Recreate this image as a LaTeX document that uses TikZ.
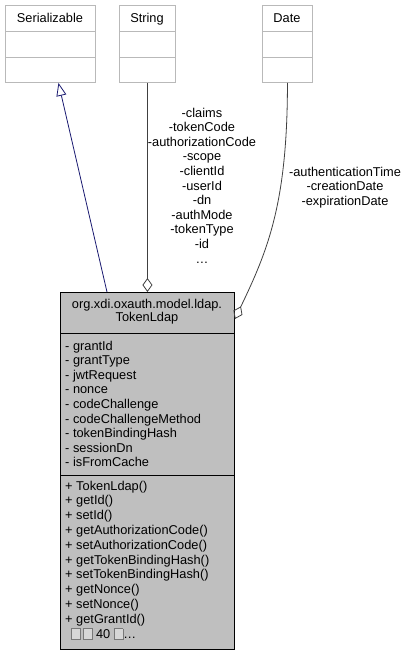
\documentclass[tikz,border=0pt]{standalone}
\usepackage{fontspec}
\setmainfont{Liberation Sans}
\usetikzlibrary{arrows.meta,calc}
\definecolor{boxedge}{RGB}{185,185,185}
\definecolor{mainfill}{RGB}{191,191,191}
\definecolor{linkgray}{RGB}{64,64,64}
\definecolor{inhblue}{RGB}{25,25,112}
\definecolor{tofuedge}{RGB}{120,120,120}
\definecolor{tofuin}{RGB}{215,215,215}
\newcommand\tofubox{\raisebox{-1.2pt}{\setlength\fboxsep{0pt}\setlength\fboxrule{0.8pt}\fcolorbox{tofuedge}{tofuin}{\rule{0pt}{10pt}\hspace{8pt}}}}
\begin{document}
\begin{tikzpicture}[x=1pt,y=-1pt,
  every node/.style={inner sep=0pt, font=\fontsize{12.8}{14.6}\selectfont},
  topbox/.style={draw=boxedge, fill=white, line width=0.9pt, minimum height=77, anchor=north west},
  mainbox/.style={draw=black, fill=mainfill, line width=0.9pt, minimum width=174, minimum height=357, anchor=north west},
  divider/.style={line width=0.9pt},
  inh/.style={draw=inhblue, line width=0.8pt, -{Triangle[open, length=13pt, width=10pt]}},
  agg/.style={draw=linkgray, line width=0.8pt, -{Diamond[open, length=14pt, width=10pt]}},
  lbl/.style={anchor=base},
  member/.style={anchor=base west}]
\useasboundingbox (0,0) rectangle (409,653);
% top boxes
\node[topbox, minimum width=90] (ser) at (5,5) {};
\node[topbox, minimum width=56] (str) at (119,5) {};
\node[topbox, minimum width=50] (date) at (262,5) {};
\foreach \b in {ser,str,date}{
  \draw[draw=boxedge, divider] ($(\b.north west)+(0,26)$) -- ($(\b.north east)+(0,26)$);
  \draw[draw=boxedge, divider] ($(\b.north west)+(0,52)$) -- ($(\b.north east)+(0,52)$);
}
\node[lbl] (serl) at (50,22) {Serializable};
\node[lbl] (strl) at (147,22) {String};
\node[lbl] (datel) at (287,22) {Date};
% main class
\node[mainbox] (main) at (60,292) {};
\draw[divider] ($(main.north west)+(0,41)$) -- ($(main.north east)+(0,41)$);
\draw[divider] ($(main.north west)+(0,183)$) -- ($(main.north east)+(0,183)$);
\node[lbl] (t1) at (147,308) {org.xdi.oxauth.model.ldap.};
\node[lbl] (t2) at (147,321) {TokenLdap};
\foreach \t [count=\i from 0] in {- grantId,- grantType,- jwtRequest,- nonce,- codeChallenge,- codeChallengeMethod,- tokenBindingHash,- sessionDn,- isFromCache}
  \node[member] (a\i) at (65,{350+14.6*\i}) {\t};
\foreach \t [count=\i from 0] in {+ TokenLdap(),+ getId(),+ setId(),+ getAuthorizationCode(),+ setAuthorizationCode(),+ getTokenBindingHash(),+ setTokenBindingHash(),+ getNonce(),+ setNonce(),+ getGrantId()}
  \node[member] (m\i) at (65,{490+14.8*\i}) {\t};
\node[member] (more) at (71,638) {\tofubox\,\tofubox\ 40 \tofubox\ldots};
% connectors
\draw[inh] ($(main.north west)+(47,0)$) -- ($(ser.south)+(8,0)$);
\draw[agg] (str.south) -- (str.south |- main.north);
\draw[agg] (date.south) .. controls ($(date.south)+(0,120)$) and (268,250) .. ($(main.north east)+(0,27)$);
% labels
\foreach \t [count=\i from 0] in {-claims,-tokenCode,-authorizationCode,-scope,-clientId,-userId,-dn,-authMode,-tokenType,-id}
  \node[lbl] (sl\i) at (202,{117+14.6*\i}) {\t};
\node[lbl] (sldots) at (202,263) {\ldots};
\foreach \t [count=\i from 0] in {-authenticationTime,-creationDate,-expirationDate}
  \node[lbl] (dl\i) at (345,{176+14.6*\i}) {\t};
\end{tikzpicture}
\end{document}
